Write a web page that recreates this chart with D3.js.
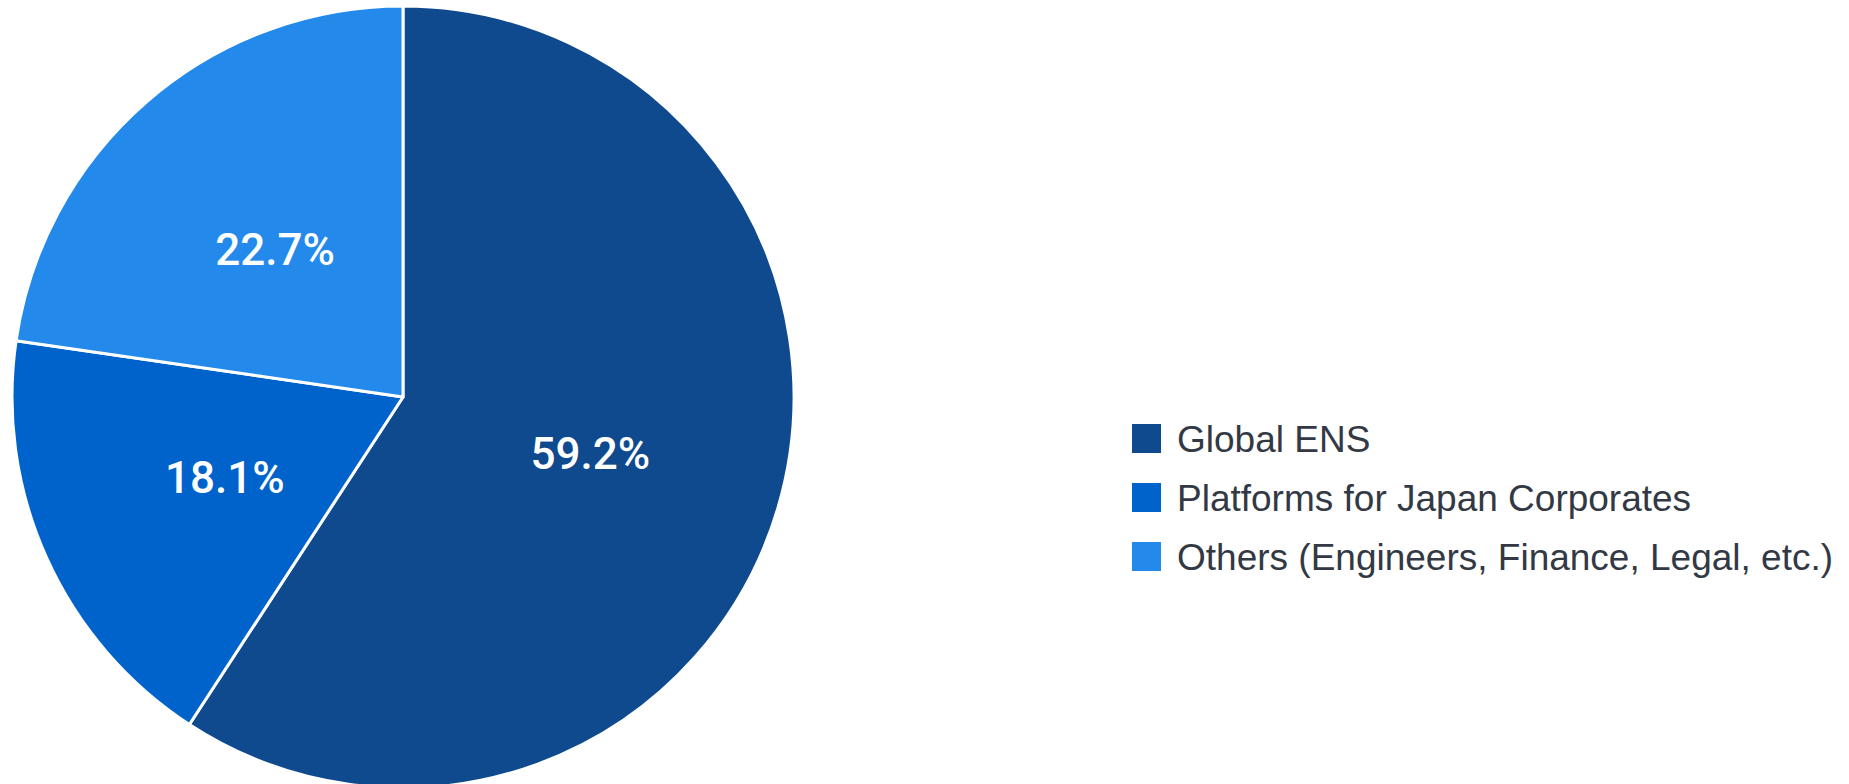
<!DOCTYPE html>
<html>
<head>
<meta charset="utf-8">
<script src="https://cdn.jsdelivr.net/npm/d3@7"></script>
<style>
  html, body { margin: 0; padding: 0; background: #fff; }
  #chart { width: 1849px; height: 784px; }
</style>
</head>
<body>
<div id="chart"></div>
<script>
const categories = ['Global ENS', 'Platforms for Japan Corporates', 'Others (Engineers, Finance, Legal, etc.)'];
const shares = [59.2, 18.1, 22.7];
const colors = ['#0f4a8e', '#0063cb', '#2389eb'];

const data = categories.map((c, i) => ({ name: c, value: shares[i] }));

var svg = d3.select('#chart').append('svg')
  .attr('width', 1849)
  .attr('height', 784);

const cx = 403, cy = 397, radius = 391;

const colScale = d3.scaleOrdinal()
  .domain(categories)
  .range(colors);

const pie = d3.pie()
  .value(d => d.value)
  .sort(null);

const arc = d3.arc()
  .innerRadius(0)
  .outerRadius(radius);

const labelArc = d3.arc()
  .innerRadius(radius * 0.5)
  .outerRadius(radius * 0.5);

const pieArea = svg.append('g')
  .attr('transform', `translate(${cx}, ${cy})`);

const arcs = pie(data);

pieArea.selectAll('path')
  .data(arcs)
  .join('path')
    .attr('d', arc)
    .attr('fill', d => colScale(d.data.name))
    .attr('stroke', '#fff')
    .attr('stroke-width', 3)
    .attr('stroke-linejoin', 'round');

pieArea.selectAll('text')
  .data(arcs)
  .join('text')
    .attr('transform', d => `translate(${labelArc.centroid(d)})`)
    .attr('text-anchor', 'middle')
    .attr('dy', '0.36em')
    .attr('fill', '#fff')
    .style('font-family', 'Roboto, Arial, sans-serif')
    .style('font-weight', 500)
    .style('font-size', '44px')
    .text(d => d.data.value.toFixed(1) + '%');

// legend
const legend = svg.append('g')
  .attr('transform', 'translate(1132, 424)');

const legY = d3.scalePoint()
  .domain(categories)
  .range([0, 118]);

const rows = legend.selectAll('g')
  .data(categories)
  .join('g')
    .attr('transform', d => `translate(0, ${legY(d)})`);

rows.append('rect')
  .attr('width', 29)
  .attr('height', 29)
  .attr('fill', d => colScale(d));

rows.append('text')
  .attr('x', 45)
  .attr('y', 14.5)
  .attr('dy', '0.36em')
  .attr('fill', '#333944')
  .style('font-family', '"Liberation Sans", Arial, sans-serif')
  .style('font-size', '37px')
  .text(d => d);
</script>
</body>
</html>
